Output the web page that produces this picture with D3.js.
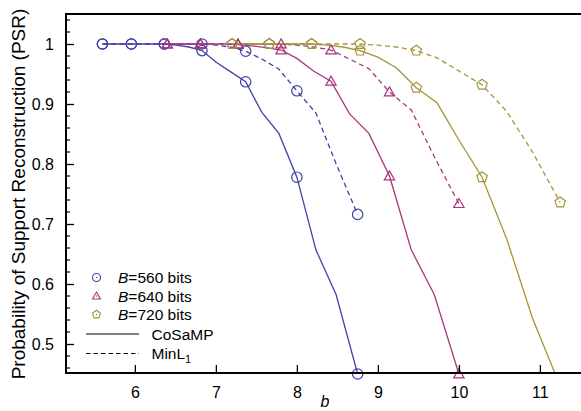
<!DOCTYPE html>
<html lang="en">
<head>
    <meta charset="UTF-8">
    <title>PSR vs b</title>
    <script src="https://d3js.org/d3.v7.min.js"></script>
    <style>
        html, body {
            margin: 0;
            padding: 0;
            background: white;
        }
        svg text {
            font-family: "Liberation Sans", Arial, sans-serif;
            fill: black;
        }
    </style>
</head>
<body>
    <svg width="581" height="411"></svg>

    <script>
        // b values (x) for each bit budget
        const b560 = [5.6, 5.714, 5.833, 5.957, 6.087, 6.222, 6.364, 6.512, 6.667, 6.829, 7.0, 7.179, 7.368, 7.568, 7.778, 8.0, 8.235, 8.485, 8.75];
        const b640 = [6.4, 6.531, 6.667, 6.809, 6.957, 7.111, 7.273, 7.442, 7.619, 7.805, 8.0, 8.205, 8.421, 8.649, 8.889, 9.143, 9.412, 9.697, 10.0];
        const b720 = [7.2, 7.347, 7.5, 7.66, 7.826, 8.0, 8.182, 8.372, 8.571, 8.78, 9.0, 9.231, 9.474, 9.73, 10.0, 10.286, 10.588, 10.909, 11.25];

        // PSR
        const cosamp560 = [1, 1, 1, 1, 1, 1, 1, 0.998, 0.995, 0.989, 0.97, 0.954, 0.937, 0.886, 0.851, 0.778, 0.657, 0.582, 0.45];
        const minl1_560 = [1, 1, 1, 1, 1, 1, 1, 1, 1, 1, 0.998, 0.995, 0.988, 0.975, 0.958, 0.922, 0.885, 0.80, 0.716];
        const cosamp640 = [1, 1, 1, 1, 1, 1, 0.999, 0.997, 0.994, 0.99, 0.976, 0.955, 0.938, 0.884, 0.851, 0.78, 0.657, 0.582, 0.45];
        const minl1_640 = [1, 1, 1, 1, 1, 1, 1, 1, 1, 1, 0.998, 0.995, 0.99, 0.975, 0.959, 0.92, 0.89, 0.812, 0.734];
        const cosamp720 = [1, 1, 1, 1, 1, 1, 1, 0.998, 0.995, 0.989, 0.978, 0.96, 0.927, 0.902, 0.84, 0.778, 0.676, 0.543, 0.43];
        const minl1_720 = [1, 1, 1, 1, 1, 1, 1, 1, 1, 1, 0.998, 0.995, 0.989, 0.977, 0.955, 0.932, 0.888, 0.82, 0.736];

        // markers only on every third point
        const markerIdx = [0, 3, 6, 9, 12, 15, 18];

        const groupLabels = ["560", "640", "720"];
        const groupColors = ["#4040aa", "#a8377a", "#a4943c"];
        const groupShapes = ["circle", "triangle", "pentagon"];

        const xTicks = [6, 7, 8, 9, 10, 11];
        const yTicks = [0.5, 0.6, 0.7, 0.8, 0.9, 1];

        const series = [
            { b: b560, psr: cosamp560, group: 0, dashed: false },
            { b: b560, psr: minl1_560, group: 0, dashed: true },
            { b: b640, psr: cosamp640, group: 1, dashed: false },
            { b: b640, psr: minl1_640, group: 1, dashed: true },
            { b: b720, psr: cosamp720, group: 2, dashed: false },
            { b: b720, psr: minl1_720, group: 2, dashed: true }
        ];

        const svg = d3.select("svg");
        const plotLeft = 66, plotTop = 14, plotBottom = 374, plotRight = 580.4;

        const x = d3.scaleLinear().domain([5.15, 11.5]).range([plotLeft, plotRight]);
        const y = d3.scaleLinear().domain([0.45, 1.05]).range([plotBottom, plotTop]);

        svg.append("defs").append("clipPath")
            .attr("id", "plotclip")
            .append("rect")
            .attr("x", plotLeft).attr("y", plotTop)
            .attr("width", 581 - plotLeft).attr("height", plotBottom - plotTop);

        // marker path generator
        function markerPath(shape, r) {
            if (shape === "circle") {
                return d3.symbol().type(d3.symbolCircle).size(Math.PI * r * r)();
            }
            const n = shape === "triangle" ? 3 : 5;
            const rr = shape === "triangle" ? r * 1.15 : r * 1.05;
            const pts = d3.range(n).map(i => {
                const a = -Math.PI / 2 + i * 2 * Math.PI / n;
                return [rr * Math.cos(a), rr * Math.sin(a) + (shape === "triangle" ? rr * 0.15 : 0)];
            });
            return "M" + pts.map(p => p.join(",")).join("L") + "Z";
        }

        // lines
        const line = d3.line()
            .x(d => x(d[0]))
            .y(d => y(d[1]));

        const plot = svg.append("g").attr("clip-path", "url(#plotclip)");

        series.forEach(s => {
            const pts = s.b.map((v, i) => [v, s.psr[i]]);
            plot.append("path")
                .datum(pts)
                .attr("d", line)
                .attr("fill", "none")
                .attr("stroke", groupColors[s.group])
                .attr("stroke-width", 1.3)
                .attr("stroke-dasharray", s.dashed ? "5,3.5" : null);
        });

        series.forEach(s => {
            const pts = markerIdx.map(i => [s.b[i], s.psr[i]]).filter(d => d[1] >= 0.45);
            svg.append("g")
                .selectAll("path")
                .data(pts)
                .enter().append("path")
                .attr("d", markerPath(groupShapes[s.group], 5.2))
                .attr("transform", d => `translate(${x(d[0])},${y(d[1])})`)
                .attr("fill", "none")
                .attr("stroke", groupColors[s.group])
                .attr("stroke-width", 1.2);
        });

        // axes
        const yAxis = d3.axisLeft(y)
            .tickValues(yTicks)
            .tickSize(-8)
            .tickPadding(12)
            .tickFormat(d3.format("~g"));
        const yAxisG = svg.append("g")
            .attr("transform", `translate(${plotLeft},0)`)
            .call(yAxis);

        // minor ticks on y
        const yMinor = d3.range(46, 105, 2).map(v => v / 100).filter(v => !yTicks.some(t => Math.abs(t - v) < 1e-6));
        svg.append("g")
            .selectAll("line")
            .data(yMinor)
            .enter().append("line")
            .attr("x1", plotLeft).attr("x2", plotLeft + 4)
            .attr("y1", d => y(d)).attr("y2", d => y(d))
            .attr("stroke", "black")
            .attr("stroke-width", 1.2);

        const xAxis = d3.axisBottom(x)
            .tickValues(xTicks)
            .tickSize(-8)
            .tickPadding(14)
            .tickFormat(d3.format("d"));
        const xAxisG = svg.append("g")
            .attr("transform", `translate(0,${plotBottom - 1})`)
            .call(xAxis);

        [yAxisG, xAxisG].forEach(g => {
            g.select(".domain").remove();
            g.selectAll(".tick line").attr("stroke", "black").attr("stroke-width", 1.3);
            g.selectAll(".tick text")
                .style("font-family", "'Liberation Sans', Arial, sans-serif")
                .style("font-size", "16px")
                .attr("fill", "black");
        });

        // frame (right side is cut off)
        svg.append("path")
            .attr("d", `M581,${plotTop}H${plotLeft}V${plotBottom - 1}H581`)
            .attr("fill", "none")
            .attr("stroke", "black")
            .attr("stroke-width", 2);

        // axis labels
        svg.append("text")
            .attr("transform", `translate(25,${(plotTop + plotBottom) / 2}) rotate(-90)`)
            .attr("text-anchor", "middle")
            .style("font-size", "19px")
            .text("Probability of Support Reconstruction (PSR)");

        svg.append("text")
            .attr("x", 325)
            .attr("y", 407)
            .attr("text-anchor", "middle")
            .style("font-size", "16px")
            .style("font-style", "italic")
            .text("b");

        // legend
        const legend = svg.append("g");
        groupLabels.forEach((lab, i) => {
            const cy = 277.5 + i * 18.5;
            legend.append("path")
                .attr("d", markerPath(groupShapes[i], 4))
                .attr("transform", `translate(96.5,${cy})`)
                .attr("fill", "none")
                .attr("stroke", groupColors[i])
                .attr("stroke-width", 1.1);
            legend.append("circle")
                .attr("cx", 96.5).attr("cy", cy).attr("r", 0.7)
                .attr("fill", groupColors[i]);
            const t = legend.append("text")
                .attr("x", 118)
                .attr("y", cy + 5.5)
                .style("font-size", "15.5px");
            t.append("tspan").style("font-style", "italic").text("B");
            t.append("tspan").text("=" + lab + " bits");
        });

        const methods = [{ name: "CoSaMP", dashed: false }, { name: "MinL", dashed: true }];
        methods.forEach((m, i) => {
            const cy = 334 + i * 19.5;
            legend.append("line")
                .attr("x1", 86).attr("x2", 139)
                .attr("y1", cy).attr("y2", cy)
                .attr("stroke", "black")
                .attr("stroke-width", 1.2)
                .attr("stroke-dasharray", m.dashed ? "4.5,3" : null);
            const t = legend.append("text")
                .attr("x", 151.5)
                .attr("y", cy + 5.5)
                .style("font-size", "15.5px")
                .text(m.name);
            if (m.dashed) {
                t.append("tspan").attr("dy", 4).style("font-size", "11px").text("1");
            }
        });
    </script>
</body>
</html>
